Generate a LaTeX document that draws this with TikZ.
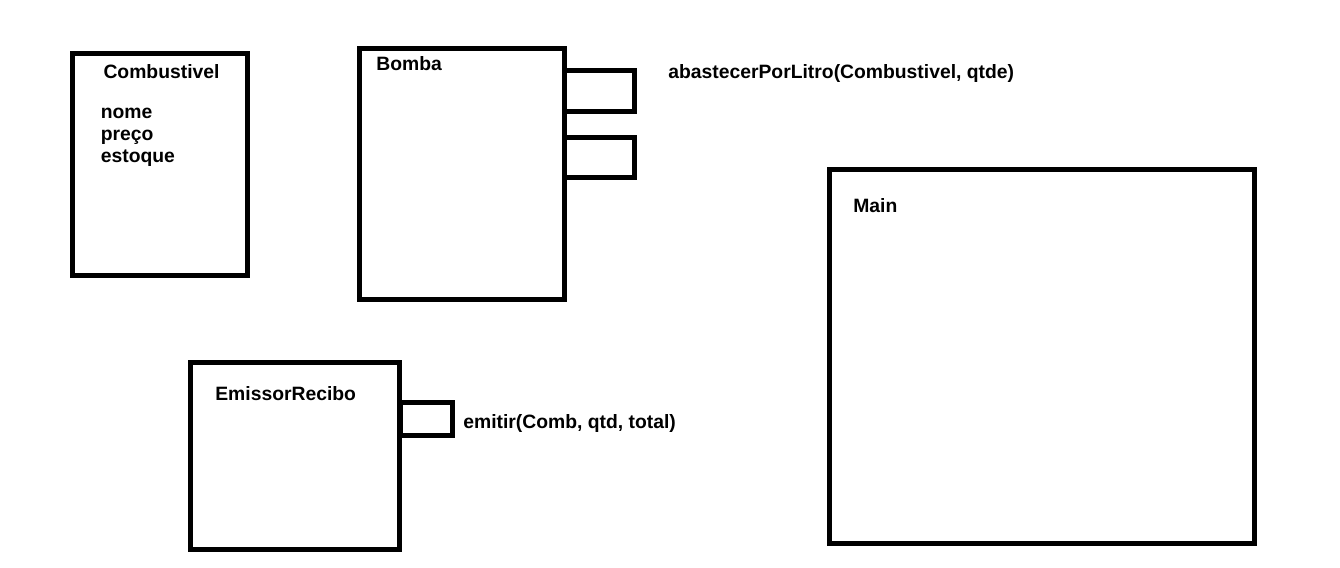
\documentclass[tikz,border=0pt]{standalone}
\usepackage{fontspec}
\setmainfont{Liberation Sans}
\usetikzlibrary{positioning}

\tikzset{
  classbox/.style={draw=black, line width=0.1cm, fill=white, inner sep=0pt, outer sep=0pt, anchor=north west},
  portbox/.style={classbox, fill=none},
  txt/.style={inner sep=0pt, anchor=base west, font=\fontsize{11}{13}\selectfont\bfseries}
}

\begin{document}
\begin{tikzpicture}[x=0.02cm, y=-0.02cm]
		\useasboundingbox (0,0) rectangle (1340,568);
		% classes
		\node [classbox, minimum width=3.51cm, minimum height=4.45cm] (combustivel) at (72,53) {};
		\node [classbox, minimum width=4.10cm, minimum height=5.02cm] (bomba) at (359.5,48.5) {};
		\node [classbox, minimum width=8.51cm, minimum height=7.49cm] (main) at (829,169) {};
		\node [classbox, minimum width=4.20cm, minimum height=3.75cm] (emissor) at (190,362) {};
		% metodos
		\node [portbox, minimum width=1.40cm, minimum height=0.83cm] (abastecer) at (564.5,70.5) {};
		\node [portbox, minimum width=1.40cm, minimum height=0.82cm] (portvazio) at (564.5,137) {};
		\node [portbox, minimum width=1.05cm, minimum height=0.66cm] (emitir) at (400,402.5) {};
		% textos
		\node [txt, anchor=base] (combnome) at (161.5,78) {Combustivel};
		\node [txt] (attrnome) at (100.5,118) {nome};
		\node [txt] (attrpreco) at (100.5,140) {preço};
		\node [txt] (attrestoque) at (100.5,162) {estoque};
		\node [txt] (bombanome) at (376,70.5) {Bomba};
		\node [txt] (mainnome) at (853,212) {Main};
		\node [txt] (emissornome) at (215,400) {EmissorRecibo};
		\node [txt] (abastecerlbl) at (668,78) {abastecerPorLitro(Combustivel, qtde)};
		\node [txt] (emitirlbl) at (463,428) {emitir(Comb, qtd, total)};
	\end{tikzpicture}
\end{document}
